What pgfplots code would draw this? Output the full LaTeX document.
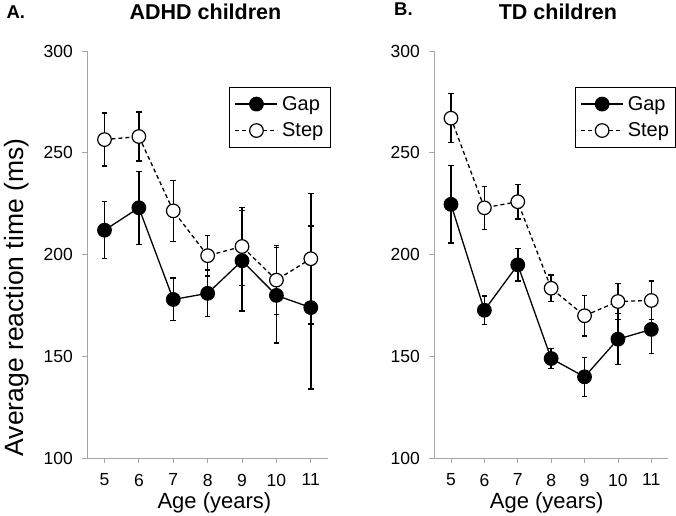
\documentclass[border=0pt]{standalone}
\usepackage{fontspec}
\setmainfont{Liberation Sans}
\usepackage{pgfplots}
\usepackage{pgfplotstable}
\pgfplotsset{compat=1.18}

% mean reaction time and error per age
\pgfplotstableread{
age rt err
5 212 14
6 223 18
7 178 10.5
8 181 11.5
9 197 24.7
10 180 23.4
11 174 40
}\adhdgap
\pgfplotstableread{
age rt err
5 256.5 13
6 258 12
7 221.5 15
8 199.5 10
9 204 19.3
10 187.5 17
11 198 32
}\adhdstep
\pgfplotstableread{
age rt err
5 224.7 19
6 172.7 7
7 195 8
8 149 5
9 140 9.5
10 158.5 12.5
11 163.3 12
}\tdgap
\pgfplotstableread{
age rt err
5 267 12
6 223 10.5
7 226 8.5
8 183.5 6.5
9 170 10
10 177 9
11 177.5 9.5
}\tdstep

\pgfplotsset{
  rtpanel/.style={
    scale only axis, height=407.3pt,
    xmin=4.5, xmax=11.5, ymin=100, ymax=300,
    axis x line*=bottom, axis y line*=left,
    axis line style={-, gray!70, line width=1pt},
    tick align=outside, major tick length=5pt,
    tick style={gray!70, line width=0.8pt},
    xtick={5,...,11}, ytick={100,150,...,300},
    tick label style={font=\fontsize{17.5}{19}\selectfont},
    yticklabel style={xshift=-6pt},
    xticklabel style={yshift=-7pt},
    /pgf/number format/assume math mode=true,
    label style={font=\fontsize{22}{24}\selectfont},
    title style={font=\fontsize{21.5}{24}\selectfont\bfseries, anchor=base, yshift=26pt},
    xlabel={Age (years)},
    legend cell align=left,
    legend style={draw=black, line width=1pt, fill=white,
      inner xsep=5pt, inner ysep=7pt, row sep=7pt, column sep=2pt,
      nodes={inner sep=2pt, font=\fontsize{20}{22}\selectfont}, anchor=north west},
  },
  longlegend/.style={legend image code/.code={%
    \draw[mark repeat=2,mark phase=2,##1] plot coordinates {(0pt,0pt) (21pt,0pt) (42pt,0pt)};}},
  gapline/.style={black, line width=1.3pt, mark=*, mark size=6.8pt,
    mark options={solid, fill=black, line width=1.2pt}, longlegend},
  stepline/.style={black, line width=1.3pt, dash pattern=on 4pt off 3pt,
    mark=*, mark size=6.8pt, mark options={solid, fill=white, line width=1.2pt}, longlegend},
  ebars/.style={error bars/.cd, y dir=both, y explicit,
    error bar style={solid, line width=1.5pt, black},
    error mark options={rotate=90, mark size=2.8pt, line width=1.3pt, black, solid}},
}

\begin{document}
\begin{tikzpicture}
\useasboundingbox (-87.3pt,-56.7pt) rectangle (588.7pt,458.3pt);
\begin{axis}[rtpanel, width=240.7pt,
  title={ADHD children}, title style={at={(axis description cs:0.491,1)}},
  xlabel style={at={(axis description cs:0.528,0)}, anchor=base, yshift=-50pt},
  ylabel={Average reaction time (ms)},
  ylabel style={at={(axis description cs:-0.267,0.395)}, anchor=base, font=\fontsize{26.5}{28}\selectfont},
  legend style={at={(axis description cs:0.59,0.912)}}]
\addlegendimage{gapline}\addlegendentry{Gap}
\addlegendimage{stepline}\addlegendentry{Step}
\addplot[stepline, forget plot, ebars] table[x=age, y=rt, y error=err] {\adhdstep};
\addplot[gapline, forget plot, ebars] table[x=age, y=rt, y error=err] {\adhdgap};
\end{axis}
\begin{axis}[rtpanel, at={(347pt,0pt)}, width=233.7pt,
  title={TD children}, title style={at={(axis description cs:0.529,1)}},
  xlabel style={at={(axis description cs:0.481,0)}, anchor=base, yshift=-50pt},
  legend style={at={(axis description cs:0.602,0.912)}}]
\addlegendimage{gapline}\addlegendentry{Gap}
\addlegendimage{stepline}\addlegendentry{Step}
\addplot[stepline, forget plot, ebars] table[x=age, y=rt, y error=err] {\tdstep};
\addplot[gapline, forget plot, ebars] table[x=age, y=rt, y error=err] {\tdgap};
\end{axis}
\node[anchor=base west, font=\fontsize{18.5}{20}\selectfont\bfseries] at (-84.3pt,440pt) {A.};
\node[anchor=base west, font=\fontsize{18.5}{20}\selectfont\bfseries] at (303.4pt,442.3pt) {B.};
\end{tikzpicture}
\end{document}
